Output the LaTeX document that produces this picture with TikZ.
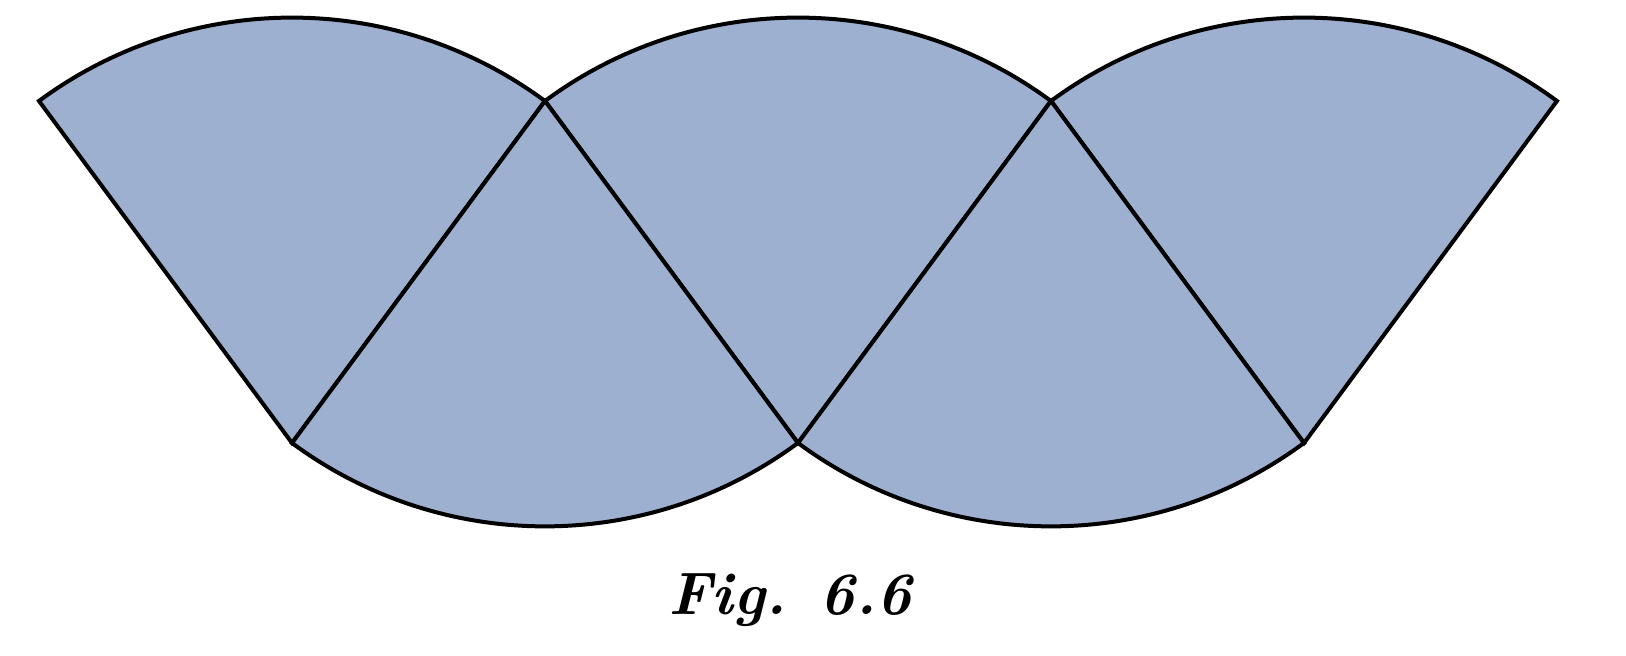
\documentclass[tikz,border=0pt]{standalone}
\begin{document}
\begin{tikzpicture}[x=0.5pt,y=0.5pt,
  sec/.style={fill=secfill,draw=black,line width=2pt,line join=miter}]
\definecolor{secfill}{HTML}{9DB0CF}
\useasboundingbox (0,0) rectangle (1626,656);
\def\r{425.4}
\foreach \i/\x in {1/39,2/545,3/1051,4/1557}{\coordinate (T\i) at (\x,555);}
\foreach \i/\x in {1/292,2/798,3/1304}{\coordinate (B\i) at (\x,213);}
% top sectors centered at bottom vertices
\foreach \i in {1,2,3}{
  \draw[sec] (B\i) -- (T\i) arc[start angle=126.49,end angle=53.51,radius=\r] -- cycle;}
% bottom sectors centered at top vertices
\foreach \i/\j in {2/1,3/2}{
  \draw[sec] (T\i) -- (B\j) arc[start angle=233.51,end angle=306.49,radius=\r] -- cycle;}
\node (cap) at (790,56) {\fontsize{30}{34}\selectfont\itshape\bfseries Fig. 6.6};
\end{tikzpicture}
\end{document}
